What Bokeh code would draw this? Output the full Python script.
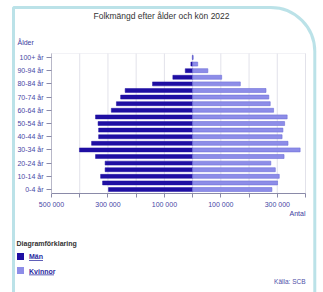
from bokeh.plotting import figure
from bokeh.models import (ColumnDataSource, FixedTicker, Label, BoxAnnotation, Range1d,
                          LinearAxis)
from bokeh.embed import file_html
from bokeh.resources import INLINE

# ---- data ----
age_groups = ["0-4 år", "5-9 år", "10-14 år", "15-19 år", "20-24 år", "25-29 år",
              "30-34 år", "35-39 år", "40-44 år", "45-49 år", "50-54 år", "55-59 år",
              "60-64 år", "65-69 år", "70-74 år", "75-79 år", "80-84 år", "85-89 år",
              "90-94 år", "95-99 år", "100+ år"]
men = [298000, 319000, 326000, 310000, 310000, 344000, 401000, 358000, 333000, 333000,
       335000, 344000, 288000, 270000, 255000, 239000, 142000, 70000, 26000, 6000, 1000]
women = [281000, 301000, 307000, 293000, 277000, 324000, 381000, 338000, 317000, 320000,
         326000, 335000, 287000, 275000, 270000, 260000, 169000, 103000, 54000, 18000, 2000]
x_ticks = [-500000, -400000, -300000, -200000, -100000, 0, 100000, 200000, 300000, 400000]
x_tick_labels = ["500 000", "", "300 000", "", "100 000", "", "100 000", "", "300 000", ""]
title_text = "Folkmängd efter ålder och kön 2022"
series_names = ["Män", "Kvinnor"]

MEN_C = "#1f0fa3"
WOMEN_C = "#8d8de8"
FONT = "Liberation Sans"

W, H = 323, 292
# plot area in canvas pixels
PL, PR, PT, PB = 51, 305, 53, 193
X0, X1 = -500000, 400000
Y0, Y1 = -0.6, 20.6
SX = (X1 - X0) / (PR - PL)
SY = (Y1 - Y0) / (PB - PT)

def dx(px):
    return X0 + (px - PL) * SX

def dy(py):
    return Y0 + (PB - py) * SY

src = ColumnDataSource(dict(
    y=list(range(len(age_groups))),
    men_left=[-m for m in men],
    women=women,
))

p = figure(width=W, height=H, output_backend="svg", toolbar_location=None,
           x_range=Range1d(dx(0), dx(W)), y_range=Range1d(dy(H), dy(0)),
           x_axis_location=None, y_axis_location=None,
           min_border=0, min_border_left=0, min_border_right=0,
           min_border_top=0, min_border_bottom=0)
p.background_fill_color = "white"
p.border_fill_color = "white"
p.outline_line_color = None
p.xgrid.grid_line_color = None
p.ygrid.grid_line_color = None

# card border
p.add_layout(BoxAnnotation(left=dx(13), right=dx(314.3), top=dy(7), bottom=dy(340),
                           fill_alpha=0, line_color="#1d9fb3", line_width=3,
                           border_radius=(0, 44, 0, 0), level="underlay"))

# vertical gridlines in the plot area
p.segment(x0=x_ticks, x1=x_ticks, y0=[Y0] * len(x_ticks), y1=[Y1] * len(x_ticks),
          line_color="#e2e2ea", line_width=1)
# plot area outline
p.add_layout(BoxAnnotation(left=X0, right=X1, bottom=Y0, top=Y1, fill_alpha=0,
                           line_color="#d4d4e0", line_width=1, level="underlay"))

p.hbar(y="y", left="men_left", right=0, height=0.6, source=src,
       fill_color=MEN_C, line_color=MEN_C, line_width=0.5)
p.hbar(y="y", left=0, right="women", height=0.6, source=src,
       fill_color=WOMEN_C, line_color="#6f6fd8", line_width=0.6)

# x axis, fixed at the bottom of the plot area
xa = LinearAxis(fixed_location=Y0, bounds=(X0, X1))
xa.ticker = FixedTicker(ticks=x_ticks)
xa.major_label_overrides = {t: l for t, l in zip(x_ticks, x_tick_labels)}
xa.axis_line_color = "#8a8aa8"
xa.major_tick_line_color = "#8a8aa8"
xa.major_tick_out = 4
xa.major_tick_in = 0
xa.minor_tick_line_color = None
xa.major_label_standoff = 3
xa.major_label_text_font = FONT
xa.major_label_text_font_size = "7px"
xa.major_label_text_color = "#4646a6"
p.add_layout(xa, "below")

# y axis, fixed at the left of the plot area
ya = LinearAxis(fixed_location=X0, bounds=(Y0, Y1))
ya.ticker = FixedTicker(ticks=list(range(0, len(age_groups), 2)))
ya.major_label_overrides = {i: age_groups[i] for i in range(0, len(age_groups), 2)}
ya.axis_line_color = "#b8b8c8"
ya.major_tick_line_color = "#8a8aa8"
ya.major_tick_out = 5
ya.major_tick_in = 0
ya.minor_tick_line_color = None
ya.major_label_standoff = 3
ya.major_label_text_font = FONT
ya.major_label_text_font_size = "7px"
ya.major_label_text_color = "#4646a6"
ya.major_label_text_baseline = "alphabetic"
p.add_layout(ya, "left")

def lab(x, y, text, size="7px", color="#4646a6", align="left", style="normal", base="middle"):
    p.add_layout(Label(x=dx(x), y=dy(y), text=text, text_font=FONT, text_font_size=size,
                       text_color=color, text_align=align, text_baseline=base,
                       text_font_style=style))

lab(161, 15, title_text, size="8.5px", color="#333333", align="center")
lab(17, 42, "Ålder", size="7px", color="#3d3da0")
lab(305, 212.5, "Antal", size="7px", color="#3d3da0", align="right")
lab(16, 242.5, "Diagramförklaring", size="7px", color="#333333", style="bold")

# legend squares
p.add_layout(BoxAnnotation(left=dx(16.5), right=dx(23.5), top=dy(252.5), bottom=dy(259.5),
                           fill_color=MEN_C, fill_alpha=1, line_color=None))
p.add_layout(BoxAnnotation(left=dx(16.5), right=dx(23.5), top=dy(266.5), bottom=dy(273.5),
                           fill_color=WOMEN_C, fill_alpha=1, line_color=None))
lab(28.5, 256, series_names[0], size="7px", color="#2a2aa0", style="bold")
lab(28.5, 270.5, series_names[1], size="7px", color="#2a2aa0", style="bold")
p.add_layout(BoxAnnotation(left=dx(28.5), right=dx(42.5), top=dy(259.6), bottom=dy(260.3),
                           fill_color="#2a2aa0", fill_alpha=1, line_color=None))
p.add_layout(BoxAnnotation(left=dx(28.5), right=dx(53.5), top=dy(274.1), bottom=dy(274.8),
                           fill_color="#2a2aa0", fill_alpha=1, line_color=None))

lab(305, 281, "Källa: SCB", size="6.5px", color="#5050a8", align="right")

open("out.html", "w").write(file_html(p, INLINE))
